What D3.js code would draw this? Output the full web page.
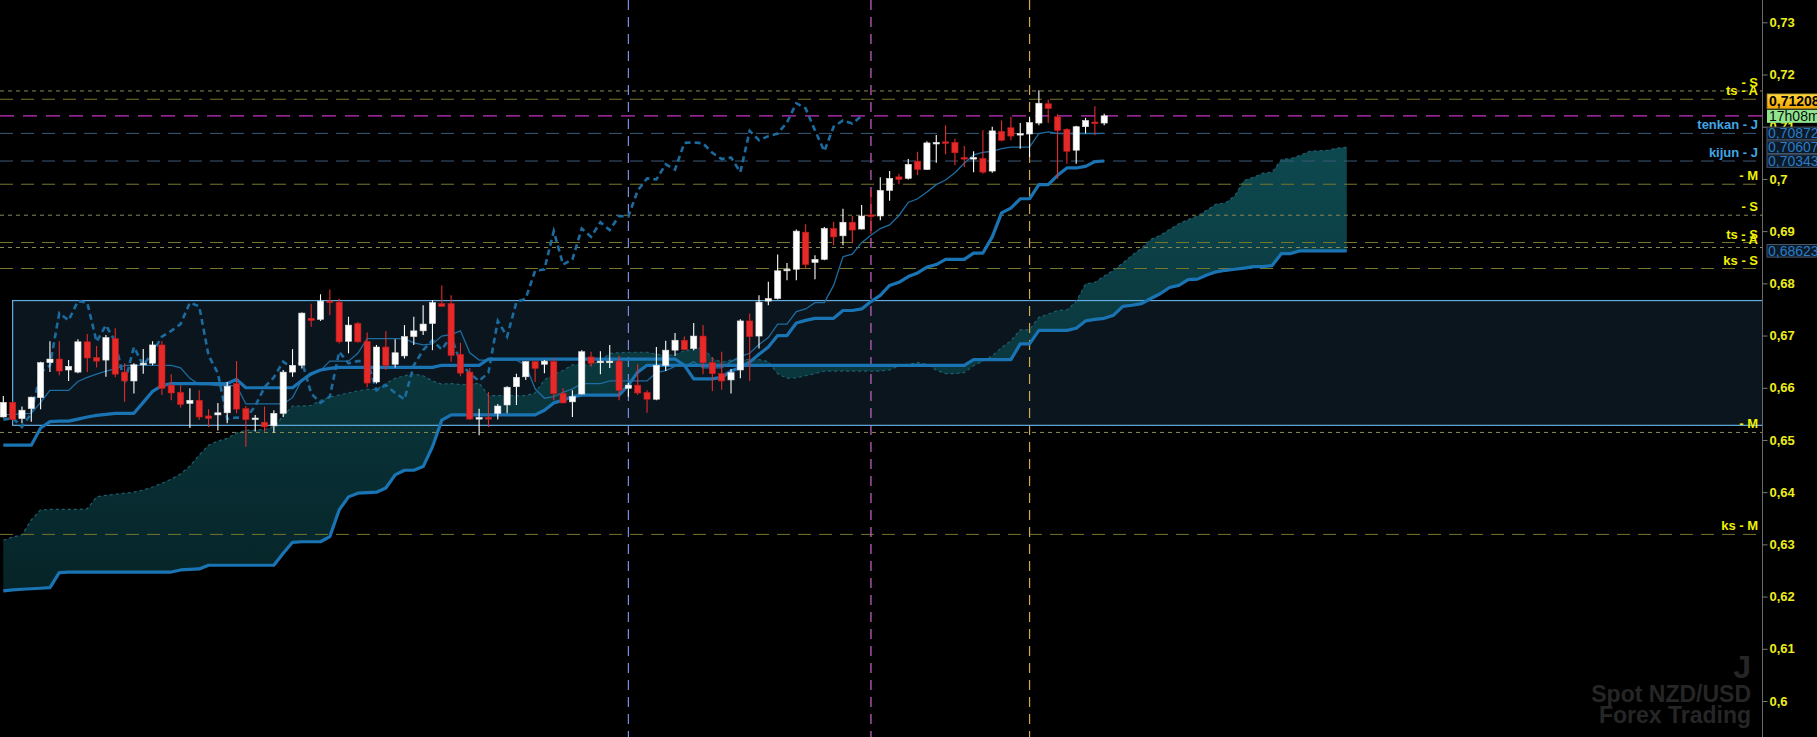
<!DOCTYPE html>
<html><head><meta charset="utf-8">
<script src="https://cdnjs.cloudflare.com/ajax/libs/d3/7.8.5/d3.min.js"></script>
<style>html,body{margin:0;padding:0;background:#000;overflow:hidden}svg{display:block}</style>
</head><body>
<svg id="chart" width="1817" height="737"></svg>
<script>
// ---------------- DATA (NZD/USD, daily bars, Ichimoku 9/26/52) ----------------
const opens = [0.6544,0.6572,0.6541,0.6560,0.6581,0.6648,0.6655,0.6634,0.6630,0.6688,
0.6658,0.6653,0.6694,0.6630,0.6613,0.6644,0.6647,0.6682,0.6605,0.6591,
0.6570,0.6576,0.6546,0.6548,0.6552,0.6608,0.6560,0.6540,0.6534,0.6527,
0.6551,0.6630,0.6643,0.6733,0.6731,0.6766,0.6764,0.6689,0.6723,0.6689,
0.6611,0.6678,0.6645,0.6661,0.6698,0.6709,0.6723,0.6761,0.6761,0.6664,
0.6630,0.6541,0.6543,0.6551,0.6567,0.6602,0.6621,0.6650,0.6645,0.6650,
0.6589,0.6573,0.6588,0.6659,0.6648,0.6650,0.6651,0.6599,0.6605,0.6591,
0.6578,0.6643,0.6672,0.6691,0.6675,0.6699,0.6648,0.6627,0.6615,0.6634,
0.6728,0.6699,0.6766,0.6771,0.6824,0.6827,0.6898,0.6840,0.6846,0.6905,
0.6891,0.6917,0.6904,0.6931,0.6929,0.6978,0.7004,0.7001,0.7034,0.7018,
0.7068,0.7071,0.7070,0.7041,0.7038,0.7039,0.7015,0.7091,0.7098,0.7086,
0.7086,0.7107,0.7144,0.7119,0.7095,0.7055,0.7100,0.7109,0.7107];
const highs = [0.6584,0.6573,0.6564,0.6583,0.6650,0.6689,0.6689,0.6653,0.6693,0.6703,
0.6680,0.6701,0.6714,0.6647,0.6647,0.6674,0.6689,0.6689,0.6626,0.6605,
0.6599,0.6595,0.6559,0.6571,0.6611,0.6651,0.6565,0.6548,0.6564,0.6557,
0.6634,0.6674,0.6744,0.6761,0.6779,0.6788,0.6771,0.6736,0.6726,0.6706,
0.6682,0.6708,0.6693,0.6720,0.6736,0.6758,0.6768,0.6796,0.6777,0.6686,
0.6638,0.6560,0.6592,0.6569,0.6603,0.6627,0.6651,0.6651,0.6653,0.6656,
0.6599,0.6595,0.6672,0.6669,0.6670,0.6682,0.6662,0.6609,0.6645,0.6595,
0.6678,0.6690,0.6705,0.6698,0.6724,0.6720,0.6659,0.6669,0.6636,0.6731,
0.6742,0.6777,0.6803,0.6855,0.6839,0.6903,0.6913,0.6854,0.6908,0.6918,
0.6943,0.6929,0.6950,0.6978,0.7003,0.7015,0.7010,0.7038,0.7052,0.7072,
0.7084,0.7103,0.7077,0.7063,0.7053,0.7093,0.7100,0.7112,0.7119,0.7107,
0.7119,0.7170,0.7152,0.7124,0.7097,0.7102,0.7117,0.7139,0.7125];
const lows = [0.6543,0.6538,0.6532,0.6535,0.6559,0.6630,0.6624,0.6613,0.6628,0.6630,
0.6639,0.6621,0.6620,0.6573,0.6589,0.6627,0.6643,0.6586,0.6576,0.6562,
0.6523,0.6538,0.6525,0.6518,0.6532,0.6551,0.6487,0.6516,0.6516,0.6514,
0.6544,0.6621,0.6637,0.6717,0.6728,0.6739,0.6685,0.6666,0.6686,0.6601,
0.6608,0.6634,0.6639,0.6656,0.6682,0.6701,0.6672,0.6755,0.6650,0.6622,
0.6538,0.6509,0.6525,0.6539,0.6551,0.6567,0.6615,0.6611,0.6628,0.6576,
0.6570,0.6544,0.6587,0.6640,0.6626,0.6638,0.6576,0.6583,0.6586,0.6552,
0.6576,0.6632,0.6661,0.6672,0.6672,0.6626,0.6594,0.6596,0.6589,0.6618,
0.6613,0.6675,0.6758,0.6769,0.6806,0.6806,0.6828,0.6808,0.6844,0.6873,
0.6873,0.6877,0.6903,0.6894,0.6921,0.6958,0.6990,0.6999,0.7007,0.7017,
0.7031,0.7047,0.7026,0.7023,0.7013,0.7010,0.7012,0.7072,0.7074,0.7058,
0.7042,0.7103,0.7107,0.7001,0.7029,0.7029,0.7087,0.7084,0.7103];
const closes = [0.6572,0.6539,0.6557,0.6582,0.6648,0.6655,0.6632,0.6641,0.6688,0.6657,
0.6651,0.6696,0.6626,0.6613,0.6644,0.6647,0.6682,0.6599,0.6590,0.6568,
0.6576,0.6544,0.6541,0.6552,0.6603,0.6559,0.6539,0.6542,0.6525,0.6551,
0.6630,0.6643,0.6743,0.6729,0.6766,0.6763,0.6688,0.6720,0.6688,0.6609,
0.6678,0.6643,0.6667,0.6698,0.6709,0.6722,0.6763,0.6756,0.6662,0.6628,
0.6540,0.6543,0.6541,0.6565,0.6601,0.6620,0.6650,0.6637,0.6651,0.6589,
0.6571,0.6583,0.6669,0.6647,0.6651,0.6651,0.6595,0.6605,0.6590,0.6578,
0.6643,0.6672,0.6691,0.6673,0.6699,0.6648,0.6627,0.6613,0.6629,0.6728,
0.6698,0.6764,0.6771,0.6824,0.6827,0.6900,0.6836,0.6846,0.6905,0.6889,
0.6917,0.6902,0.6929,0.6928,0.6978,0.7001,0.6999,0.7028,0.7018,0.7069,
0.7070,0.7068,0.7050,0.7038,0.7041,0.7013,0.7092,0.7074,0.7082,0.7087,
0.7108,0.7145,0.7135,0.7093,0.7053,0.7100,0.7112,0.7106,0.71208];
const tenkan = [0.6548,0.6549,0.6550,0.6551,0.6572,0.6595,0.6595,0.6595,0.6612,0.6620,
0.6626,0.6632,0.6636,0.6643,0.6643,0.6643,0.6643,0.6643,0.6643,0.6638,
0.6618,0.6606,0.6606,0.6604,0.6604,0.6604,0.6569,0.6569,0.6569,0.6569,
0.6569,0.6581,0.6615,0.6624,0.6633,0.6651,0.6651,0.6651,0.6666,0.6694,
0.6694,0.6694,0.6694,0.6694,0.6686,0.6682,0.6684,0.6699,0.6702,0.6709,
0.6667,0.6653,0.6653,0.6653,0.6653,0.6653,0.6643,0.6598,0.6580,0.6583,
0.6591,0.6598,0.6608,0.6608,0.6608,0.6613,0.6613,0.6613,0.6613,0.6613,
0.6629,0.6633,0.6641,0.6641,0.6650,0.6638,0.6638,0.6638,0.6650,0.6660,
0.6666,0.6683,0.6696,0.6722,0.6722,0.6746,0.6751,0.6763,0.6763,0.6796,
0.6851,0.6856,0.6878,0.6892,0.6905,0.6912,0.6930,0.6955,0.6962,0.6975,
0.6989,0.6998,0.7012,0.7030,0.7046,0.7051,0.7053,0.7058,0.7061,0.7061,
0.7061,0.7087,0.7090,0.7087,0.7087,0.7087,0.7087,0.7087,0.70872];
const kijun = [0.6490,0.6490,0.6490,0.6490,0.6523,0.6535,0.6536,0.6536,0.6540,0.6544,
0.6547,0.6549,0.6551,0.6551,0.6551,0.6572,0.6593,0.6604,0.6608,0.6608,
0.6608,0.6608,0.6608,0.6608,0.6608,0.6616,0.6600,0.6600,0.6600,0.6600,
0.6600,0.6600,0.6614,0.6627,0.6634,0.6637,0.6639,0.6639,0.6639,0.6639,
0.6639,0.6639,0.6639,0.6639,0.6639,0.6639,0.6639,0.6643,0.6643,0.6643,
0.6643,0.6643,0.6655,0.6655,0.6655,0.6655,0.6655,0.6655,0.6655,0.6655,
0.6655,0.6655,0.6655,0.6655,0.6655,0.6655,0.6655,0.6655,0.6655,0.6655,
0.6655,0.6655,0.6655,0.6643,0.6617,0.6617,0.6617,0.6620,0.6632,0.6639,
0.6649,0.6664,0.6678,0.6700,0.6700,0.6724,0.6729,0.6733,0.6733,0.6733,
0.6748,0.6748,0.6751,0.6765,0.6777,0.6796,0.6802,0.6813,0.6820,0.6831,
0.6836,0.6846,0.6846,0.6846,0.6858,0.6858,0.6889,0.6935,0.6944,0.6962,
0.6962,0.6989,0.6989,0.7007,0.7021,0.7021,0.7024,0.7033,0.70343];
// Senkou spans (cloud), plotted 26 bars ahead: indices 0..144
const spanA = [0.6308,0.6314,0.6318,0.6347,0.6366,0.6367,0.6367,0.6367,0.6367,0.6368,
0.6391,0.6394,0.6396,0.6398,0.6400,0.6404,0.6410,0.6417,0.6425,0.6435,
0.6450,0.6471,0.6490,0.6498,0.6503,0.6513,0.6519,0.6519,0.6520,0.6525,
0.6546,0.6565,0.6565,0.6566,0.6576,0.6582,0.6586,0.6590,0.6594,0.6597,
0.6597,0.6608,0.6618,0.6623,0.6626,0.6623,0.6613,0.6607,0.6608,0.6606,
0.6606,0.6609,0.6585,0.6585,0.6585,0.6585,0.6585,0.6590,0.6615,0.6626,
0.6633,0.6644,0.6644,0.6644,0.6652,0.6666,0.6667,0.6668,0.6668,0.6668,
0.6664,0.6662,0.6663,0.6671,0.6673,0.6677,0.6656,0.6649,0.6653,0.6654,
0.6654,0.6654,0.6650,0.6627,0.6618,0.6619,0.6623,0.6627,0.6632,0.6632,
0.6632,0.6632,0.6632,0.6632,0.6632,0.6634,0.6642,0.6645,0.6648,0.6645,
0.6634,0.6627,0.6627,0.6629,0.6642,0.6651,0.6661,0.6677,0.6690,0.6711,
0.6711,0.6735,0.6741,0.6748,0.6749,0.6765,0.6799,0.6802,0.6814,0.6825,
0.6839,0.6854,0.6867,0.6884,0.6892,0.6903,0.6914,0.6922,0.6929,0.6940,
0.6952,0.6954,0.6968,0.6997,0.7003,0.7011,0.7013,0.7037,0.7039,0.7045,
0.7053,0.7054,0.7055,0.7059,0.70607];
const spanB = [0.6211,0.6213,0.6214,0.6215,0.6216,0.6217,0.6246,0.6247,0.6247,0.6247,
0.6247,0.6247,0.6247,0.6247,0.6247,0.6247,0.6247,0.6247,0.6247,0.6251,
0.6252,0.6253,0.6260,0.6260,0.6260,0.6260,0.6260,0.6260,0.6260,0.6260,
0.6283,0.6304,0.6305,0.6305,0.6305,0.6315,0.6366,0.6391,0.6398,0.6399,
0.6400,0.6408,0.6433,0.6442,0.6442,0.6449,0.6487,0.6538,0.6548,0.6548,
0.6548,0.6548,0.6548,0.6548,0.6548,0.6548,0.6548,0.6548,0.6557,0.6571,
0.6576,0.6583,0.6586,0.6586,0.6586,0.6586,0.6586,0.6605,0.6630,0.6643,
0.6643,0.6643,0.6643,0.6643,0.6643,0.6643,0.6643,0.6643,0.6643,0.6643,
0.6643,0.6643,0.6643,0.6643,0.6643,0.6643,0.6643,0.6643,0.6643,0.6643,
0.6643,0.6643,0.6643,0.6643,0.6643,0.6643,0.6643,0.6643,0.6643,0.6643,
0.6643,0.6643,0.6643,0.6643,0.6654,0.6654,0.6654,0.6654,0.6654,0.6684,
0.6684,0.6710,0.6710,0.6710,0.6710,0.6714,0.6728,0.6731,0.6733,0.6739,
0.6756,0.6758,0.6761,0.6771,0.6780,0.6792,0.6796,0.6807,0.6808,0.6816,
0.6822,0.6825,0.6827,0.6829,0.6832,0.6832,0.6834,0.6857,0.6857,0.68623,
0.68623,0.68623,0.68623,0.68623,0.68623];
const chikouShift = 26;

// Horizontal levels drawn on the chart
const levelPrices = [0.71685,0.71526,0.69898,0.69305,0.68782,0.68686,0.68284,0.65144,0.63191];
const levelLabels = ["- S","ts - A","- M","- S","ts - S","- A","ks - S","- M","ks - M"];
const levelKinds  = ["fine","long","long","fine","long","fine","long","fine","long"];
const lineLevelPrices = [0.70872,0.70343];
const lineLevelLabels = ["tenkan - J","kijun - J"];
const lastPrice = 0.71208;
const timerLabel = "17h08m";
const tagPrices = [0.70872,0.70607,0.70343,0.68623];
// Zone rectangle and vertical markers
const zoneTop = 0.6767, zoneBottom = 0.6528, zoneStartBar = 1;
const vBars = [67,93,110];
const vColors = ["#7b8ce6","#cc66cc","#d6a64a"];
// Y axis ticks
const yTicks = [0.60,0.61,0.62,0.63,0.64,0.65,0.66,0.67,0.68,0.69,0.70,0.71,0.72,0.73];
const watermark = ["J","Spot NZD/USD","Forex Trading"];

// ---------------- DRAW ----------------
const W = 1817, H = 737, axisX = 1762;
const svg = d3.select("#chart");
const x = d3.scaleLinear().domain([0, 118]).range([3.3, 1104.2]);
const y = d3.scaleLinear().domain([0.60, 0.73]).range([701, 22.3]);
const fmt = v => d3.format(".2~f")(v).replace(".", ",");
const fmt5 = v => d3.format(".5f")(v).replace(".", ",");
const FONT = "'Liberation Sans', Arial, Helvetica, sans-serif";

svg.append("rect").attr("width", W).attr("height", H).attr("fill", "#000");

const defs = svg.append("defs");
defs.append("clipPath").attr("id", "plot").append("rect")
  .attr("x", 0).attr("y", 0).attr("width", axisX).attr("height", H);
const grad = defs.append("linearGradient").attr("id", "kumo")
  .attr("gradientUnits", "userSpaceOnUse").attr("x1", 0).attr("y1", 140).attr("x2", 0).attr("y2", 600);
grad.append("stop").attr("offset", 0).attr("stop-color", "#0e4d54");
grad.append("stop").attr("offset", 1).attr("stop-color", "#062529");
const tagGrad = defs.append("linearGradient").attr("id", "tagY")
  .attr("x1", 0).attr("y1", 0).attr("x2", 0).attr("y2", 1);
tagGrad.append("stop").attr("offset", 0).attr("stop-color", "#ffd83a");
tagGrad.append("stop").attr("offset", 1).attr("stop-color", "#f2a400");

// watermark
const wm = svg.append("g").attr("font-family", FONT).attr("font-weight", "bold")
  .attr("fill", "#262626").attr("text-anchor", "end");
wm.append("text").attr("x", 1751).attr("y", 678).attr("font-size", 32).text(watermark[0]);
wm.append("text").attr("x", 1751).attr("y", 702).attr("font-size", 23).text(watermark[1]);
wm.append("text").attr("x", 1751).attr("y", 723).attr("font-size", 23).text(watermark[2]);

const plot = svg.append("g").attr("clip-path", "url(#plot)");

// zone rectangle fill
plot.append("rect")
  .attr("x", x(zoneStartBar)).attr("y", y(zoneTop))
  .attr("width", axisX - x(zoneStartBar) + 5).attr("height", y(zoneBottom) - y(zoneTop))
  .attr("fill", "#0a151d");

// cloud
const kIdx = d3.range(spanA.length);
plot.append("path").datum(kIdx)
  .attr("d", d3.area().x(k => x(k)).y0(k => y(spanA[k])).y1(k => y(spanB[k])))
  .attr("fill", "url(#kumo)").attr("opacity", 0.95);

// horizontal levels
levelPrices.forEach((p, i) => {
  const fine = levelKinds[i] === "fine";
  plot.append("line").attr("x1", 0).attr("x2", axisX).attr("y1", y(p)).attr("y2", y(p))
    .attr("stroke", fine ? "#8a8a58" : "#76762a").attr("stroke-width", 1)
    .attr("stroke-dasharray", fine ? "4,4" : "13,8");
});
lineLevelPrices.forEach(p => {
  plot.append("line").attr("x1", 0).attr("x2", axisX).attr("y1", y(p)).attr("y2", y(p))
    .attr("stroke", "#3a5a78").attr("stroke-width", 1).attr("stroke-dasharray", "13,8");
});
plot.append("line").attr("x1", 0).attr("x2", axisX).attr("y1", y(lastPrice)).attr("y2", y(lastPrice))
  .attr("stroke", "#c433c4").attr("stroke-width", 1.3).attr("stroke-dasharray", "14,9");

// vertical markers
vBars.forEach((b, i) => {
  plot.append("line").attr("x1", x(b)).attr("x2", x(b)).attr("y1", 0).attr("y2", H)
    .attr("stroke", vColors[i]).attr("stroke-width", 1.2).attr("stroke-dasharray", "10,7");
});

// zone rectangle stroke
plot.append("rect")
  .attr("x", x(zoneStartBar)).attr("y", y(zoneTop))
  .attr("width", axisX - x(zoneStartBar) + 5).attr("height", y(zoneBottom) - y(zoneTop))
  .attr("fill", "none").attr("stroke", "#62ace2").attr("stroke-width", 1.2);

// span lines
plot.append("path").datum(kIdx)
  .attr("d", d3.line().x(k => x(k)).y(k => y(spanA[k])))
  .attr("fill", "none").attr("stroke", "#1f5e72").attr("stroke-width", 1.2).attr("stroke-dasharray", "3,3");
plot.append("path").datum(kIdx)
  .attr("d", d3.line().x(k => x(k)).y(k => y(spanB[k])))
  .attr("fill", "none").attr("stroke", "#1a74b3").attr("stroke-width", 3.2).attr("stroke-linejoin", "round");

// chikou (closes displayed 26 bars back)
const chIdx = d3.range(chikouShift, closes.length);
plot.append("path").datum(chIdx)
  .attr("d", d3.line().x(i => x(i - chikouShift)).y(i => y(closes[i])))
  .attr("fill", "none").attr("stroke", "#1c6b9f").attr("stroke-width", 2.6).attr("stroke-dasharray", "6,4");

// tenkan & kijun
const bIdx = d3.range(closes.length);
plot.append("path").datum(bIdx)
  .attr("d", d3.line().x(i => x(i)).y(i => y(tenkan[i])))
  .attr("fill", "none").attr("stroke", "#1e6ca0").attr("stroke-width", 1.3);
plot.append("path").datum(bIdx)
  .attr("d", d3.line().x(i => x(i)).y(i => y(kijun[i])))
  .attr("fill", "none").attr("stroke", "#1a74b3").attr("stroke-width", 3.2).attr("stroke-linejoin", "round");

// candles
const bodyW = 6.2;
const cg = plot.append("g");
bIdx.forEach(i => {
  const up = closes[i] >= opens[i];
  const col = up ? "#ffffff" : "#e62a2a";
  cg.append("line").attr("x1", x(i)).attr("x2", x(i))
    .attr("y1", y(highs[i])).attr("y2", y(lows[i]))
    .attr("stroke", col).attr("stroke-width", 1.1);
  const top = y(Math.max(opens[i], closes[i]));
  const h = Math.max(1.6, Math.abs(y(opens[i]) - y(closes[i])));
  cg.append("rect").attr("x", x(i) - bodyW / 2).attr("y", top)
    .attr("width", bodyW).attr("height", h).attr("fill", col)
    .attr("stroke", up ? "#dcdcdc" : "#c21c1c").attr("stroke-width", 0.6);
});

// level labels
const lab = svg.append("g").attr("font-family", FONT).attr("font-weight", "bold")
  .attr("font-size", 13).attr("text-anchor", "end");
levelPrices.forEach((p, i) => {
  lab.append("text").attr("x", 1758).attr("y", y(p) - 4).attr("fill", "#f0f000").text(levelLabels[i]);
});
lineLevelPrices.forEach((p, i) => {
  lab.append("text").attr("x", 1758).attr("y", y(p) - 4).attr("fill", "#42a6e6").text(lineLevelLabels[i]);
});

// y axis
svg.append("line").attr("x1", axisX + 0.5).attr("x2", axisX + 0.5).attr("y1", 0).attr("y2", H)
  .attr("stroke", "#6a6a6a").attr("stroke-width", 1);
const ax = svg.append("g").attr("transform", `translate(${axisX + 0.5},0)`)
  .call(d3.axisRight(y).tickValues(yTicks).tickFormat(fmt).tickSize(5).tickPadding(2).tickSizeOuter(0));
ax.select(".domain").remove();
ax.selectAll(".tick line").attr("stroke", "#7a7a7a");
ax.selectAll(".tick text").attr("fill", "#eded1c").attr("font-family", FONT)
  .attr("font-weight", "bold").attr("font-size", 13);

// price tags
const tags = svg.append("g").attr("font-family", FONT).attr("font-size", 13);
const py = y(lastPrice);
tags.append("rect").attr("x", 1767).attr("y", py - 22).attr("width", 60).attr("height", 15)
  .attr("fill", "url(#tagY)").attr("stroke", "#7a6a30").attr("stroke-width", 0.8);
tags.append("text").attr("x", 1769).attr("y", py - 10).attr("font-weight", "bold").attr("fill", "#000")
  .attr("font-size", 14).text(fmt5(lastPrice));
tags.append("rect").attr("x", 1767).attr("y", py - 6).attr("width", 60).attr("height", 13)
  .attr("fill", "#8fe68f");
tags.append("text").attr("x", 1769).attr("y", py + 5).attr("fill", "#0a0a0a").attr("font-size", 14).text(timerLabel);
tagPrices.forEach(p => {
  const cy = y(p);
  tags.append("rect").attr("x", 1767).attr("y", cy - 6.3).attr("width", 60).attr("height", 12.6)
    .attr("fill", "#0c1a27").attr("stroke", "#46566a").attr("stroke-width", 1);
  tags.append("text").attr("x", 1768).attr("y", cy + 5).attr("fill", "#2a7cc6").attr("font-size", 14).text(fmt5(p));
});
</script>
</body></html>
